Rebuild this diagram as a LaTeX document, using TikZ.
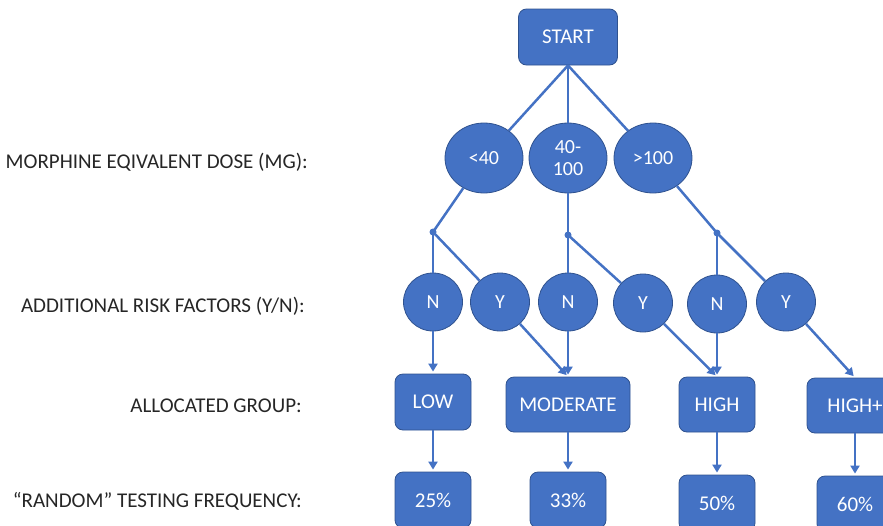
\documentclass[tikz,border=0pt]{standalone}
\usepackage{fontspec}
\setmainfont{Carlito}
\usetikzlibrary{shapes.geometric,arrows.meta}
\definecolor{obl}{HTML}{4472C4}
\definecolor{obd}{HTML}{2F528F}
\begin{document}
\begin{tikzpicture}[x=1pt,y=-1pt,
  box/.style={draw=obd, line width=0.8pt, fill=obl, rounded corners=8pt, text=white,
              font=\fontsize{21}{24}\selectfont, inner sep=0pt},
  oval/.style={ellipse, draw=obd, line width=0.8pt, fill=obl, text=white, align=center,
              font=\fontsize{20}{22}\selectfont, inner sep=0pt},
  yn/.style={oval, minimum width=59pt, minimum height=58pt},
  dose/.style={oval, minimum width=78pt, minimum height=70pt},
  conn/.style={draw=obl, line width=2.5pt},
  arr/.style={conn, -{Triangle[length=8pt,width=9pt]}, shorten >=2pt},
  lab/.style={anchor=base east, font=\fontsize{21}{24}\selectfont, text=black!85, inner sep=0pt},
  dot/.style={circle, fill=obl, minimum size=7pt, inner sep=0pt}]
\useasboundingbox (0,0) rectangle (883,525);

% labels
\node[lab] (l1) at (308,168) {MORPHINE EQIVALENT DOSE (MG):};
\node[lab] (l2) at (305,312) {ADDITIONAL RISK FACTORS (Y/N):};
\node[lab] (l3) at (302,412) {ALLOCATED GROUP:};
\node[lab] (l4) at (302,507) {“RANDOM” TESTING FREQUENCY:};

% nodes
\node[box, minimum width=99pt, minimum height=56pt] (start) at (568,37) {START};
\node[dose] (d1) at (484,158) {<40};
\node[dose] (d2) at (568,158) {40-\\100};
\node[dose] (d3) at (653,158) {>100};

\node[dot] (j1) at (433,232) {};
\node[dot] (j2) at (568,235) {};
\node[dot] (j3) at (717,233) {};

\node[yn] (n1) at (433,302) {N};
\node[yn] (y1) at (500,302) {Y};
\node[yn] (n2) at (568,302) {N};
\node[yn] (y2) at (643,303) {Y};
\node[yn] (n3) at (717,304) {N};
\node[yn] (y3) at (786,302) {Y};

\node[box, minimum width=76pt, minimum height=56pt] (low) at (433,402) {LOW};
\node[box, minimum width=124pt, minimum height=55pt] (mod) at (568,404.5) {MODERATE};
\node[box, minimum width=76pt, minimum height=55pt] (high) at (717,404.5) {HIGH};
\node[box, minimum width=96pt, minimum height=55pt] (highp) at (855,405.5) {HIGH+};

\node[box, minimum width=76pt, minimum height=56pt] (p1) at (433,500) {25\%};
\node[box, minimum width=76pt, minimum height=56pt] (p2) at (568,500) {33\%};
\node[box, minimum width=76pt, minimum height=56pt] (p3) at (717,503) {50\%};
\node[box, minimum width=76pt, minimum height=56pt] (p4) at (855,504) {60\%};

% connectors
\draw[conn] (start.south) -- (d1);
\draw[conn] (start.south) -- (d2);
\draw[conn] (start.south) -- (d3);
\draw[conn] (d1) -- (j1.center);
\draw[conn] (d2) -- (j2.center);
\draw[conn] (d3) -- (j3.center);
\draw[conn] (j1.center) -- (n1);
\draw[conn] (j1.center) -- (y1);
\draw[conn] (j2.center) -- (n2);
\draw[conn] (j2.center) -- (y2);
\draw[conn] (j3.center) -- (n3);
\draw[conn] (j3.center) -- (y3);

\draw[arr] (n1) -- (low);
\draw[arr] (y1) -- (mod.north);
\draw[arr] (n2) -- (mod);
\draw[arr] (y2) -- (high.north);
\draw[arr] (n3) -- (high);
\draw[arr] (y3) -- (highp.north);

\draw[arr] (low) -- (p1);
\draw[arr] (mod) -- (p2);
\draw[arr] (high) -- (p3);
\draw[arr] (highp) -- (p4);
\end{tikzpicture}
\end{document}
